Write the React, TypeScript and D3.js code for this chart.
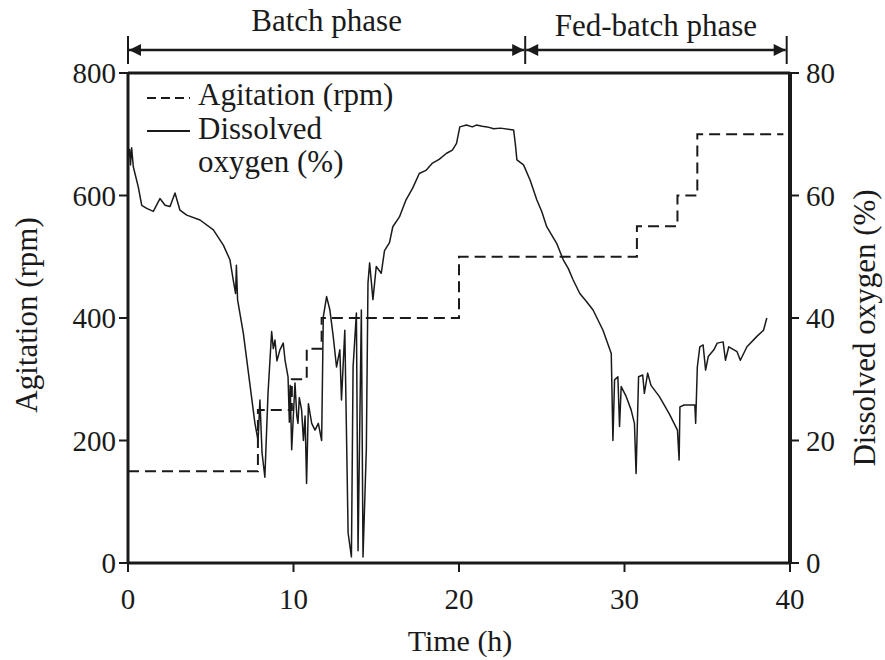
import React from "react";
import * as d3 from "d3";

const xTicks = [0, 10, 20, 30, 40];
const leftTicks = [0, 200, 400, 600, 800];
const rightTicks = [0, 20, 40, 60, 80];

const agitTime = [0, 7.85, 9.9, 10.8, 11.7, 20, 30.75, 33.2, 34.4, 39.6];
const agitRpm = [150, 250, 300, 350, 400, 500, 550, 600, 700, 700];

const doTime = [
  0, 0.1, 0.15, 0.22, 0.32, 0.62, 0.83, 1.13, 1.53, 1.93, 2.24, 2.54, 2.84, 3.14, 3.55, 4.35, 5.16, 5.76, 6.16, 6.36,
  6.5, 6.55, 6.62, 6.97, 7.67, 7.86, 7.97, 8.1, 8.27, 8.46, 8.68, 8.78, 8.88, 9.0, 9.18, 9.38, 9.49, 9.67, 9.75, 9.8,
  9.89, 10.09, 10.2, 10.27, 10.35, 10.49, 10.6, 10.7, 10.79, 10.9, 11.1, 11.3, 11.5, 11.7, 11.8, 12.0, 12.2, 12.4, 12.6, 12.8,
  12.9, 13.1, 13.3, 13.5, 13.6, 13.8, 13.9, 14.1, 14.2, 14.4, 14.5, 14.6, 14.8, 15.0, 15.3, 15.5, 15.8, 16.0, 16.4, 16.8,
  17.2, 17.6, 18.0, 18.4, 18.8, 19.25, 19.6, 19.85, 20.05, 20.45, 20.8, 21.05, 21.4, 21.7, 22.1, 22.5, 23.3, 23.4, 23.5, 23.9,
  24.3, 24.7, 25.0, 25.3, 25.9, 26.3, 26.6, 26.9, 27.3, 27.7, 28.1, 28.7, 29.2, 29.3, 29.4, 29.6, 29.7, 29.8, 30.1, 30.4,
  30.6, 30.7, 30.85, 31.1, 31.2, 31.4, 31.6, 32.1, 32.7, 33.2, 33.3, 33.35, 33.6, 34.25, 34.3, 34.4, 34.55, 34.75, 34.9, 35.06,
  35.4, 35.6, 35.96, 36.1, 36.3, 36.8, 37.0, 37.4, 38.0, 38.4, 38.6,
];
const doValue = [
  66, 67.5, 65, 67.8, 64.7, 61.4, 58.4, 57.9, 57.4, 59.5, 58.4, 58.2, 60.4, 57.6, 56.8, 56, 54.4, 51.9, 49.5, 46.2,
  44, 48.6, 43, 37.5, 22.8, 20, 26.6, 18, 14, 27.7, 37.8, 35, 36.4, 33, 34.8, 35.9, 33.1, 30.4, 23, 29,
  18.5, 29.4, 24, 22.8, 27, 25, 20, 24, 13, 26, 22.8, 21.7, 22.8, 20, 40.2, 43.5, 41.3, 37, 32, 34.8,
  26.6, 38, 4.9, 1, 32, 40.8, 2, 41.3, 1, 18.5, 45.7, 49, 43, 48.4, 47.3, 51, 52.3, 54.9, 56.5, 59.3,
  61.2, 63.6, 64.1, 65.3, 65.9, 66.9, 67.4, 68.5, 71.2, 71.5, 71.2, 71.5, 71.3, 71.2, 70.9, 71, 70.7, 68.5, 65.8, 65,
  62.5, 59.3, 57.4, 54.9, 52.2, 49.5, 48.1, 46.2, 44, 42.7, 41.3, 38, 34.2, 20, 29.9, 30.4, 22.3, 28.8, 27.2, 25,
  22.8, 14.6, 30.4, 30.7, 27.7, 31, 29, 27.2, 24.4, 21.7, 16.8, 25.5, 25.8, 25.8, 22.8, 32, 35.3, 35.6, 31.5, 33.7,
  34.8, 35.9, 36.1, 33.1, 35.3, 34.5, 33.1, 35.3, 37, 38, 40,
];

const phases = [
  { label: "Batch phase", start: 0, end: 24 },
  { label: "Fed-batch phase", start: 24, end: 39.8 },
];

const FONT = "Liberation Serif, Times New Roman, DejaVu Serif, serif";
const INK = "#1a1a1a";

export default function App() {
  const x = d3.scaleLinear().domain([0, 40]).range([128, 790]);
  const yL = d3.scaleLinear().domain([0, 800]).range([563, 73]);
  const yR = d3.scaleLinear().domain([0, 80]).range([563, 73]);

  const agitLine = d3
    .line<number>()
    .x((_, i) => x(agitTime[i]))
    .y((d) => yL(d))
    .curve(d3.curveStepAfter)(agitRpm) as string;

  const doLine = d3
    .line<number>()
    .x((_, i) => x(doTime[i]))
    .y((d) => yR(d))(doValue) as string;

  const arrowY = 50;
  const tick = { fontFamily: FONT, fontSize: 29, fill: INK } as React.CSSProperties;
  const lab = { fontFamily: FONT, fontSize: 31, fill: INK } as React.CSSProperties;

  return (
    <svg
      width={885}
      height={660}
      style={{ position: "absolute", left: 0, top: 0, background: "#fff", fontFamily: FONT }}
    >
      <defs>
        <marker id="arr" viewBox="0 0 10 10" refX="10" refY="5" markerWidth="16" markerHeight="12" markerUnits="userSpaceOnUse" orient="auto-start-reverse">
          <path d="M0,0 L10,5 L0,10 Z" fill={INK} />
        </marker>
      </defs>
      <rect width={885} height={660} fill="#fff" />

      {phases.map((p) => (
        <g key={p.label}>
          <line
            x1={x(p.start) + 1}
            x2={x(p.end) - 1}
            y1={arrowY}
            y2={arrowY}
            stroke={INK}
            strokeWidth={2.5}
            markerStart="url(#arr)"
            markerEnd="url(#arr)"
          />
          <text x={(x(p.start) + x(p.end)) / 2} y={p.start === 0 ? 31 : 36} textAnchor="middle" style={lab}>
            {p.label}
          </text>
        </g>
      ))}
      {[0, 24, 39.8].map((t) => (
        <line key={t} x1={x(t)} x2={x(t)} y1={36} y2={64} stroke={INK} strokeWidth={2} />
      ))}

      <line x1={x(0)} x2={x(40)} y1={73} y2={73} stroke={INK} strokeWidth={3} />
      <line x1={x(0)} x2={x(40)} y1={563} y2={563} stroke={INK} strokeWidth={3} />
      <line x1={x(0)} x2={x(0)} y1={72} y2={564} stroke={INK} strokeWidth={3} />
      <line x1={x(40)} x2={x(40)} y1={72} y2={564} stroke={INK} strokeWidth={4} />

      {xTicks.map((t) => (
        <g key={"x" + t}>
          <line x1={x(t)} x2={x(t)} y1={563} y2={572} stroke={INK} strokeWidth={2} />
          <text x={x(t)} y={609} textAnchor="middle" style={tick}>
            {t}
          </text>
        </g>
      ))}
      {leftTicks.map((t) => (
        <g key={"l" + t}>
          <line x1={x(0) - 9} x2={x(0)} y1={yL(t)} y2={yL(t)} stroke={INK} strokeWidth={2} />
          <text x={116} y={yL(t) + 10} textAnchor="end" style={tick}>
            {t}
          </text>
        </g>
      ))}
      {rightTicks.map((t) => (
        <g key={"r" + t}>
          <line x1={x(40)} x2={x(40) + 9} y1={yR(t)} y2={yR(t)} stroke={INK} strokeWidth={2} />
          <text x={806} y={yR(t) + 10} textAnchor="start" style={tick}>
            {t}
          </text>
        </g>
      ))}

      <text x={460} y={651} textAnchor="middle" style={{ ...lab, fontSize: 30 }}>
        Time (h)
      </text>
      <text transform="translate(37,315) rotate(-90)" textAnchor="middle" style={lab}>
        Agitation (rpm)
      </text>
      <text transform="translate(875,328) rotate(-90)" textAnchor="middle" style={lab}>
        Dissolved oxygen (%)
      </text>

      <path d={agitLine} fill="none" stroke={INK} strokeWidth={2} strokeDasharray="11,6" />
      <path d={doLine} fill="none" stroke={INK} strokeWidth={1.5} strokeLinejoin="round" />

      <line x1={147} x2={190} y1={98} y2={98} stroke={INK} strokeWidth={2} strokeDasharray="9,5" />
      <text x={198} y={105} style={lab}>
        Agitation (rpm)
      </text>
      <line x1={147} x2={190} y1={131} y2={131} stroke={INK} strokeWidth={2} />
      <text x={198} y={139} style={lab}>
        Dissolved
      </text>
      <text x={198} y={172} style={lab}>
        oxygen (%)
      </text>
    </svg>
  );
}
